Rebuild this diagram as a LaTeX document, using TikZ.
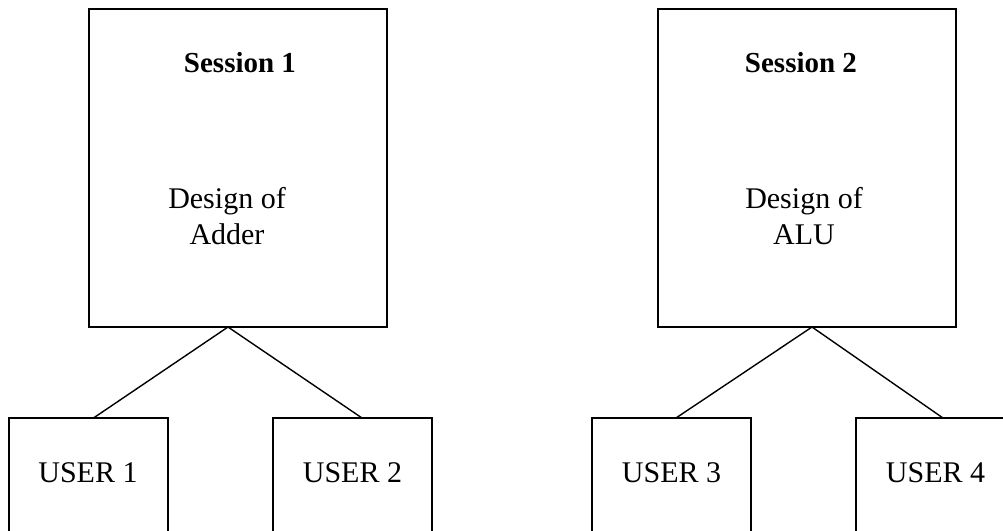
\documentclass[tikz,border=0pt]{standalone}
\usepackage{fontspec}
\setmainfont{Liberation Serif}
\usepackage{tikz}
\usetikzlibrary{positioning}

\begin{document}
\begin{tikzpicture}[
  x=0.5pt, y=-0.5pt,
  sessbox/.style={draw, line width=1pt, minimum width=149pt, minimum height=159pt, inner sep=0pt, outer sep=0pt},
  userbox/.style={draw, line width=1pt, minimum width=79.5pt, inner xsep=0pt, inner ysep=0pt, text height=32pt, text depth=48pt, outer sep=0pt, anchor=north, font=\fontsize{15}{18}\selectfont},
  sesstitle/.style={font=\fontsize{14.5}{17}\selectfont\bfseries, anchor=base, inner sep=0pt},
  sessdesc/.style={font=\fontsize{15}{18}\selectfont, align=center, inner sep=0pt},
  link/.style={line width=0.7pt}
]
\fill[white] (0,0) rectangle (1003,531);
\useasboundingbox (0,0) rectangle (1003,531);
\clip (0,0) rectangle (1003,531);

\node[sessbox] (s1) at (238,168) {};
\node[sessbox, right=135.5pt of s1] (s2) {};
\node[sesstitle] (t1) at (240,72) {Session 1};
\node[sesstitle] (t2) at (801,72) {Session 2};
\node[sessdesc] (d1) at (227,216) {Design of\\Adder};
\node[sessdesc] (d2) at (804,216) {Design of\\ALU};

\node[userbox] (u1) at (88,418) {USER 1};
\node[userbox] (u2) at (352.5,418) {USER 2};
\node[userbox] (u3) at (671.5,418) {USER 3};
\node[userbox] (u4) at (935.5,418) {USER 4};

\draw[link] ([xshift=-5pt]s1.south) -- ([xshift=2.75pt]u1.north);
\draw[link] ([xshift=-5pt]s1.south) -- ([xshift=4.75pt]u2.north);
\draw[link] ([xshift=2.5pt]s2.south) -- ([xshift=2.25pt]u3.north);
\draw[link] ([xshift=2.5pt]s2.south) -- ([xshift=3.75pt]u4.north);
\end{tikzpicture}
\end{document}
